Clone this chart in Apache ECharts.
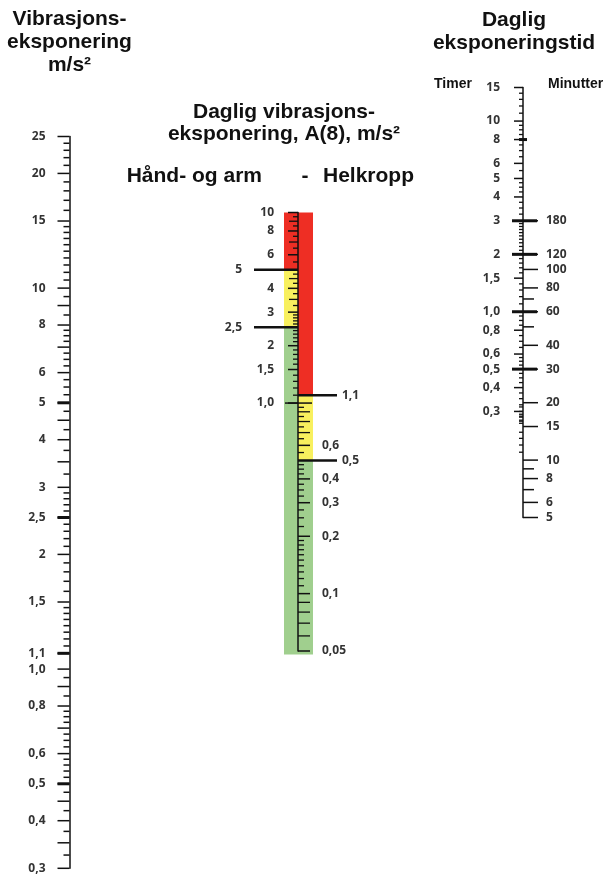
<!DOCTYPE html>
<html>
<head>
<meta charset="utf-8">
<title>Vibrasjonseksponering - nomogram</title>
<script src="https://cdn.jsdelivr.net/npm/echarts@6/dist/echarts.min.js"></script>
<style>
  html, body { margin: 0; padding: 0; background: #fff; }
  #chart { width: 606px; height: 875px; }
</style>
</head>
<body>
<div id="chart"></div>
<script>
// venstre skala: vibrasjonseksponering, m/s2
const vibLabels = ['25', '20', '15', '10', '8', '6', '5', '4', '3', '2,5', '2', '1,5', '1,1', '1,0', '0,8', '0,6', '0,5', '0,4', '0,3']
const vibThick = [5, 2.5, 1.1, 0.5]
const vibLong = [9, 7, 4.5, 3.5, 0.9, 0.7, 0.45, 0.35]
const vibMinor = [24, 23, 22, 21, 19, 18, 17, 16, 14.5, 14, 13.5, 13, 12.5, 12, 11.5, 11, 10.5,
  9.5, 8.5, 7.75, 7.5, 7.25, 6.75, 6.5, 6.25, 5.75, 5.5, 5.25, 4.75, 4.25, 3.75, 3.25,
  2.9, 2.8, 2.7, 2.6, 2.4, 2.3, 2.2, 2.1, 1.9, 1.8, 1.7, 1.6, 1.45, 1.4, 1.35, 1.3, 1.25, 1.2, 1.15,
  0.95, 0.85, 0.775, 0.75, 0.725, 0.675, 0.65, 0.625, 0.58, 0.56, 0.54, 0.52,
  0.475, 0.425, 0.375, 0.325]

// midtre skala: A(8), hand-arm (venstre side)
const handLabels = ['10', '8', '6', '4', '3', '2', '1,5', '1,0']
const handLimits = ['5', '2,5']
const handLong = [9, 7, 4.5, 3.5]
const handMinor = [9.5, 8.5, 7.5, 6.5, 5.5, 4.75, 4.25, 3.75, 3.25, 2.9, 2.8, 2.7, 2.6,
  2.4, 2.3, 2.2, 2.1, 1.9, 1.8, 1.7, 1.6, 1.4, 1.3, 1.2, 1.1]
const handZones = [10, 5, 2.5, 0.048]   // rod | gul | gronn

// midtre skala: A(8), helkropp (hoyre side)
const bodyLabels = ['0,6', '0,4', '0,3', '0,2', '0,1', '0,05']
const bodyLimits = ['1,1', '0,5']
const bodyLong = [0.9, 0.8, 0.7, 0.09, 0.08, 0.07, 0.06]
const bodyMinor = [0.95, 0.85, 0.75, 0.65, 0.55, 0.475, 0.45, 0.425, 0.375, 0.35, 0.325,
  0.275, 0.25, 0.225, 0.19, 0.18, 0.17, 0.16, 0.15, 0.14, 0.13, 0.12, 0.11]
const bodyZones = [10, 1.1, 0.5, 0.048]
const barCross = [1]

// hoyre skala: daglig eksponeringstid
const hourLabels = ['15', '10', '8', '6', '5', '4', '3', '2', '1,5', '1,0', '0,8', '0,6', '0,5', '0,4', '0,3']
const hourMarks = [3, 2, 1, 0.5]
const hourMinor = [14, 13, 12, 11, 9.5, 9, 8.5, 7.5, 7, 6.5, 5.5, 4.75, 4.5, 4.25, 3.75, 3.5, 3.25,
  2.9, 2.8, 2.7, 2.6, 2.5, 2.4, 2.3, 2.2, 2.1, 1.9, 1.8, 1.7, 1.6, 1.4, 1.3, 1.2, 1.1,
  0.95, 0.9, 0.85, 0.75, 0.7, 0.65, 0.575, 0.55, 0.525, 0.475, 0.45, 0.425, 0.375, 0.35, 0.325,
  0.29, 0.28, 0.27, 0.26]
const minuteLabels = ['180', '120', '100', '80', '60', '40', '30', '20', '15', '10', '8', '6', '5']
const minuteLong = [70, 50, 9, 7]
const minuteMinor = [19, 18, 17, 16, 14, 13, 12, 11]

const INK = '#111'
const LABEL = '#333'
const ZONE_COLORS = ['#ee2e24', '#f8f05e', '#a0cf8e']
const TICK_FONT = 'bold 12px "Open Sans"'
const TITLE_FONT = 'bold 21px "Liberation Sans"'

const num = s => parseFloat(String(s).replace(',', '.'))

const chart = echarts.init(document.getElementById('chart'))

// strek pa en skala, left/right = lengde til hver side av aksen
const ticks = (values, gi, ai, left, right, width) => ({
  type: 'custom', xAxisIndex: gi, yAxisIndex: ai, z: 4, silent: true,
  data: values.map(v => [0, num(v)]),
  renderItem: (params, api) => {
    const p = api.coord([0, api.value(1)])
    return {
      type: 'line',
      shape: { x1: p[0] - left, y1: p[1], x2: p[0] + right, y2: p[1] },
      style: { stroke: INK, lineWidth: width }
    }
  }
})

const labels = (texts, gi, ai, dx, align) => ({
  type: 'custom', xAxisIndex: gi, yAxisIndex: ai, z: 4, silent: true,
  data: texts.map(t => [0, num(t)]),
  renderItem: (params, api) => {
    const p = api.coord([0, api.value(1)])
    return {
      type: 'text', x: p[0] + dx, y: p[1],
      style: { text: texts[params.dataIndex], fill: LABEL, font: TICK_FONT, align, verticalAlign: 'middle' }
    }
  }
})

// fargefelt i A(8)-stolpen
const zones = (bounds, side) => {
  const data = []
  for (let i = 0; i < bounds.length - 1; i++) data.push([0, bounds[i], bounds[i + 1], i])
  return {
    type: 'custom', xAxisIndex: 1, yAxisIndex: 1, z: 1, silent: true,
    data,
    renderItem: (params, api) => {
      const top = api.coord([0, api.value(1)])
      const bot = api.coord([0, api.value(2)])
      const w = side === 'left' ? 14 : 15
      return {
        type: 'rect',
        shape: { x: side === 'left' ? top[0] - w : top[0], y: top[1], width: w, height: bot[1] - top[1] },
        style: { fill: ZONE_COLORS[api.value(3)] }
      }
    }
  }
}

const scaleAxis = (gi, min, max, show) => ({
  type: 'log', logBase: 10, gridIndex: gi, min, max, z: 3,
  axisLine: { show, lineStyle: { color: INK, width: 1.5 } },
  axisTick: { show: false }, axisLabel: { show: false }, splitLine: { show: false }
})

const title = (text, x, y, align, font) => ({
  type: 'text', x, y, silent: true,
  style: { text, font: font || TITLE_FONT, fill: INK, align: align || 'center', verticalAlign: 'middle' }
})

const option = {
  animation: false,
  backgroundColor: '#fff',
  grid: [
    { left: 69.5, top: 136.5, width: 10, height: 731.8 },
    { left: 298, top: 212.5, width: 10, height: 438.5 },
    { left: 523, top: 87.5, width: 10, height: 430 }
  ],
  xAxis: [0, 1, 2].map(gi => ({ type: 'value', gridIndex: gi, min: 0, max: 1, show: false })),
  yAxis: [
    scaleAxis(0, 0.3, 25, true),
    scaleAxis(1, 0.05, 10, true),
    scaleAxis(2, 5 / 60, 15, true),
    scaleAxis(2, 5, 900, false)
  ],
  graphic: [
    title('Vibrasjons-', 69.5, 19),
    title('eksponering', 69.5, 42),
    title('m/s²', 69.5, 65),
    title('Daglig', 514, 20),
    title('eksponeringstid', 514, 43),
    title('Daglig vibrasjons-', 284, 112),
    title('eksponering, A(8), m/s²', 284, 134),
    title('Hånd- og arm', 262, 176, 'right'),
    title('-', 305, 176),
    title('Helkropp', 323, 176, 'left'),
    title('Timer', 453, 84, 'center', 'bold 14px "Liberation Sans"'),
    title('Minutter', 548, 84, 'left', 'bold 14px "Liberation Sans"')
  ],
  series: [
    zones(handZones, 'left'),
    zones(bodyZones, 'right'),

    ticks(vibMinor, 0, 0, 6, 0, 1.5),
    ticks(vibLong, 0, 0, 12, 0, 1.5),
    ticks(vibLabels, 0, 0, 12, 0, 1.5),
    ticks(vibThick, 0, 0, 12, 0, 3),
    labels(vibLabels, 0, 0, -24, 'right'),

    ticks(handMinor, 1, 1, 5, 0, 1.3),
    ticks(handLong, 1, 1, 9, 0, 1.3),
    ticks(handLabels, 1, 1, 10, 0, 1.5),
    ticks(handLimits, 1, 1, 44, 0, 2.5),
    labels(handLabels, 1, 1, -24, 'right'),
    labels(handLimits, 1, 1, -56, 'right'),
    ticks(barCross, 1, 1, 13, 14, 1.5),

    ticks(bodyMinor, 1, 1, 0, 6, 1.3),
    ticks(bodyLong, 1, 1, 0, 12, 1.3),
    ticks(bodyLabels, 1, 1, 0, 12, 1.5),
    ticks(bodyLimits, 1, 1, 0, 39, 2.5),
    labels(bodyLabels, 1, 1, 24, 'left'),
    labels(bodyLimits, 1, 1, 44, 'left'),

    ticks(hourMinor, 2, 2, 4, 0, 1.3),
    ticks(hourLabels, 2, 2, 9, 0, 1.5),
    ticks([8], 2, 2, 4, 4, 3),
    ticks(hourMarks, 2, 2, 11, 14, 3),
    labels(hourLabels, 2, 2, -23, 'right'),

    ticks(minuteMinor, 2, 3, 4, 0, 1.3),
    ticks(minuteLong, 2, 3, 0, 11, 1.5),
    ticks(minuteLabels, 2, 3, 0, 15, 1.5),
    labels(minuteLabels, 2, 3, 23, 'left')
  ]
}

chart.setOption(option)
</script>
</body>
</html>
